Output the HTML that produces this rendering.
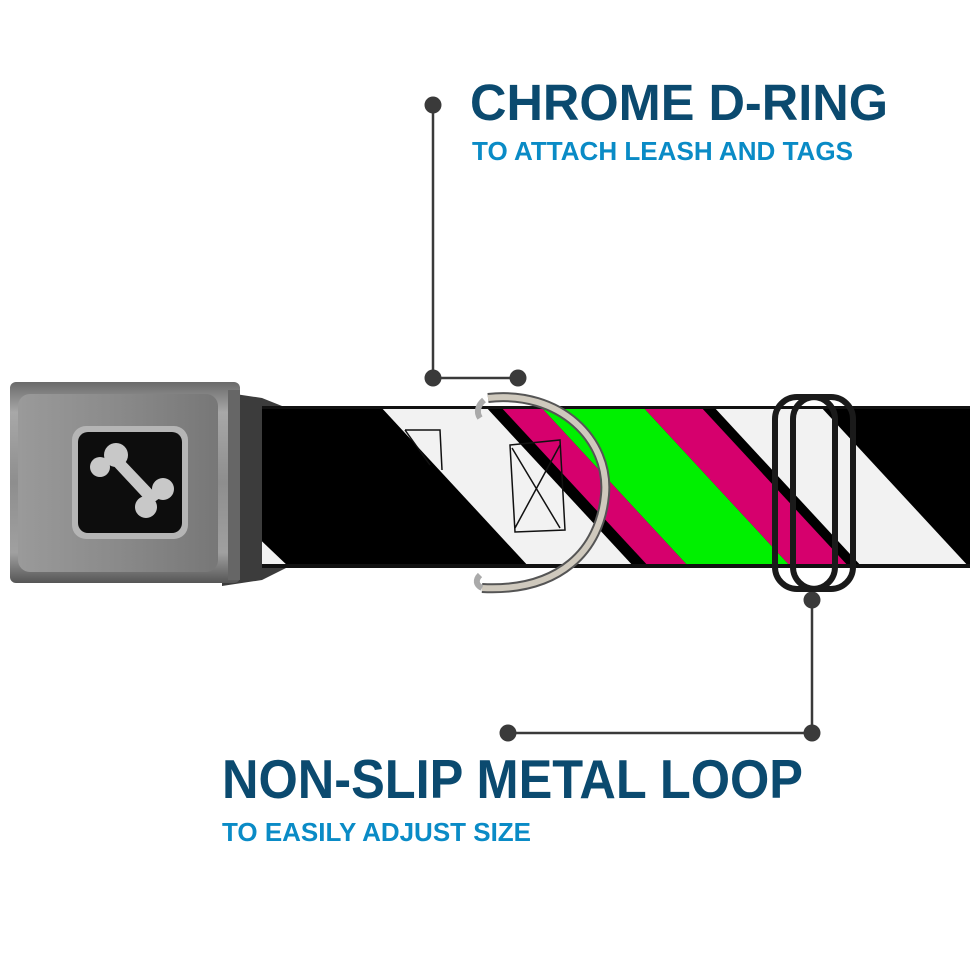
<!DOCTYPE html>
<html><head><meta charset="utf-8"><style>
html,body{margin:0;padding:0;background:#fff;}
svg{display:block;}
text{font-family:"Liberation Sans",sans-serif;font-weight:bold;}
</style></head><body>
<svg width="970" height="971" viewBox="0 0 970 971" xmlns="http://www.w3.org/2000/svg">
<defs>
<linearGradient id="bk" x1="0" y1="0" x2="0" y2="1">
<stop offset="0" stop-color="#6a6a6a"/><stop offset="0.15" stop-color="#a8a8a8"/><stop offset="0.5" stop-color="#8e8e8e"/><stop offset="0.85" stop-color="#a0a0a0"/><stop offset="1" stop-color="#555"/>
</linearGradient>
<linearGradient id="bk2" x1="0" y1="0" x2="1" y2="0">
<stop offset="0" stop-color="#9a9a9a"/><stop offset="0.5" stop-color="#8a8a8a"/><stop offset="1" stop-color="#777"/>
</linearGradient>
<clipPath id="strap"><rect x="262" y="406" width="708" height="162"/></clipPath>
</defs>
<rect width="970" height="971" fill="#fff"/>

<!-- connectors -->
<g stroke="#3a3a3a" stroke-width="2.5" fill="none">
<polyline points="433,105 433,378 518,378"/>
<polyline points="812,600 812,733 508,733"/>
</g>
<g fill="#3a3a3a">
<circle cx="433" cy="105" r="8.5"/><circle cx="433" cy="378" r="8.5"/><circle cx="518" cy="378" r="8.5"/>
<circle cx="812" cy="600" r="8.5"/><circle cx="812" cy="733" r="8.5"/><circle cx="508" cy="733" r="8.5"/>
</g>

<!-- text -->
<text x="470" y="120" font-size="51" fill="#0b4a6f" textLength="418" lengthAdjust="spacingAndGlyphs">CHROME D-RING</text>
<text x="472" y="160" font-size="26" fill="#0a8bc6" textLength="381" lengthAdjust="spacingAndGlyphs">TO ATTACH LEASH AND TAGS</text>
<text x="222" y="798" font-size="55" fill="#0b4a6f" textLength="581" lengthAdjust="spacingAndGlyphs">NON-SLIP METAL LOOP</text>
<text x="222" y="841" font-size="26" fill="#0a8bc6" textLength="309" lengthAdjust="spacingAndGlyphs">TO EASILY ADJUST SIZE</text>

<!-- buckle connector -->
<path d="M222,392 L262,398 L292,410 L292,565 L262,580 L222,586 Z" fill="#3c3c3c"/>

<!-- strap -->
<g clip-path="url(#strap)">
<rect x="262" y="406" width="708" height="162" fill="#000"/>
<polygon points="250,568 290,568 250,530" fill="#f2f2f2"/>
<polygon points="380,406 485,406 635,568 530,568" fill="#f2f2f2"/>
<polygon points="500,406 540,406 690,568 650,568" fill="#d6006d"/>
<polygon points="540,406 642,406 792,568 690,568" fill="#00f000"/>
<polygon points="642,406 700,406 850,568 792,568" fill="#d6006d"/>
<polygon points="713,406 820,406 970,568 863,568" fill="#f2f2f2"/>
<g stroke="#111" stroke-width="1.5" fill="none">
<path d="M405,430 L440,430 L442,470 M405,430 L430,465"/>
<path d="M510,445 L560,440 L565,530 L515,532 Z M512,448 L560,528 M560,445 L515,528"/>
</g>
<rect x="262" y="404" width="708" height="5" fill="#111"/>
<rect x="262" y="564" width="708" height="5" fill="#111"/>
</g>

<!-- D-ring -->
<path d="M488,398 C560,390 610,440 605,495 C600,550 560,592 482,588" fill="none" stroke="#555" stroke-width="10"/>
<path d="M488,398 C560,390 610,440 605,495 C600,550 560,592 482,588" fill="none" stroke="#cfc9bd" stroke-width="6"/>
<path d="M484,400 C478,405 476,412 480,418" fill="none" stroke="#aaa" stroke-width="6"/>
<path d="M480,575 C475,580 476,585 482,588" fill="none" stroke="#aaa" stroke-width="6"/>

<!-- loop -->
<g fill="none" stroke="#1a1a1a" stroke-width="6">
<rect x="775" y="397" width="60" height="192" rx="22"/>
<rect x="793" y="397" width="60" height="192" rx="22"/>
</g>

<!-- buckle -->
<rect x="10" y="382" width="230" height="201" rx="6" fill="url(#bk)"/>
<rect x="18" y="394" width="200" height="178" rx="12" fill="url(#bk2)"/>
<rect x="228" y="390" width="12" height="190" fill="#666"/>
<rect x="72" y="426" width="116" height="113" rx="14" fill="#b5b5b5"/>
<rect x="78" y="432" width="104" height="101" rx="10" fill="#0d0d0d"/>
<g fill="#c8c8c8">
<circle cx="116" cy="455" r="12"/><circle cx="100" cy="467" r="10"/>
<circle cx="163" cy="489" r="11"/><circle cx="146" cy="507" r="11"/>
<path d="M110,462 L122,458 L160,498 L150,505 Z"/>
</g>
</svg>
</body></html>
